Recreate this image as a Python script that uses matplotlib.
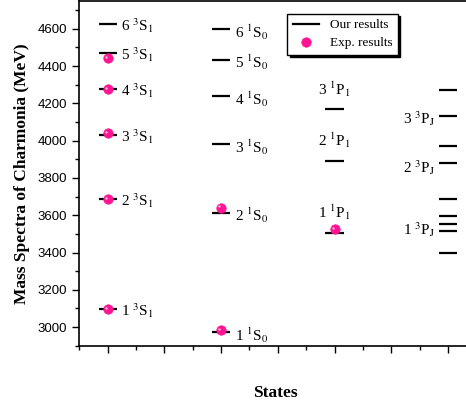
import matplotlib
matplotlib.use("Agg")
import matplotlib.pyplot as plt
from matplotlib.ticker import MultipleLocator

plt.rcParams['font.family'] = 'Liberation Serif'
plt.rcParams['mathtext.fontset'] = 'stix'

# column positions on the x axis
col_s3 = 1
col_s1 = 3
col_p1 = 5
col_pj = 7

# our results (MeV)
s3_levels = [3098, 3687, 4028, 4275, 4470, 4625]
s3_labels = ["1", "2", "3", "4", "5", "6"]
s1_levels = [2973, 3613, 3980, 4237, 4435, 4598]
p1_levels = [3506, 3893, 4171]
pj_levels = [3395, 3514, 3555, 3595, 3689, 3880, 3969, 4130, 4269]

# experimental values (MeV)
s3_exp = [3097, 3686, 4039, 4275, 4441]
s1_exp = [2984, 3640]
p1_exp = [3527]

# label heights for the P wave groups
p1_label_y = [3615, 4000, 4275]
pj_label_y = [3525, 3855, 4120]

fig = plt.figure(figsize=(4.66, 4.03), dpi=100)
ax = fig.add_axes([0.170, 0.142, 0.84, 0.856])

hw = 0.16
lc = 'black'
ax.hlines(s3_levels, col_s3 - hw, col_s3 + hw, color=lc, lw=1.6)
ax.hlines(s1_levels, col_s1 - hw, col_s1 + hw, color=lc, lw=1.6)
ax.hlines(p1_levels, col_p1 - hw, col_p1 + hw, color=lc, lw=1.6)
ax.hlines(pj_levels, col_pj - hw, col_pj + hw, color=lc, lw=1.6)

dot = dict(ls='none', marker='o', ms=6.8, mfc='#ff1493', mec='#ff1493', mew=0.5)
ax.plot([col_s3] * len(s3_exp), s3_exp, **dot)
ax.plot([col_s1] * len(s1_exp), s1_exp, **dot)
ax.plot([col_p1] * len(p1_exp), p1_exp, **dot)
# small highlight on the spheres
hl = dict(ls='none', marker='o', ms=1.7, mfc='#ffc0e0', mec='none')
ax.plot([col_s3 - 0.03] * len(s3_exp), [v + 7 for v in s3_exp], **hl)
ax.plot([col_s1 - 0.03] * len(s1_exp), [v + 7 for v in s1_exp], **hl)
ax.plot([col_p1 - 0.03] * len(p1_exp), [v + 7 for v in p1_exp], **hl)

fs = 11
for n, v in zip(s3_labels, s3_levels):
    ax.text(col_s3 + 0.24, v - 8, n + r" $^3$S$_1$", fontsize=fs, va='center', ha='left')
for n, v in zip(s3_labels, s1_levels):
    ax.text(col_s1 + 0.24, v - 15, n + r" $^1$S$_0$", fontsize=fs, va='center', ha='left')
for n, v in zip(["1", "2", "3"], p1_label_y):
    ax.text(col_p1, v, n + r" $^1$P$_1$", fontsize=fs, va='center', ha='center')
for n, v in zip(["1", "2", "3"], pj_label_y):
    ax.text(col_pj - 0.22, v, n + r" $^3$P$_\mathrm{J}$", fontsize=fs, va='center', ha='right')

ax.set_xlim(0.5, 7.4)
ax.set_ylim(2900, 4750)
ax.xaxis.set_major_locator(MultipleLocator(1))
ax.xaxis.set_minor_locator(MultipleLocator(0.5))
ax.yaxis.set_major_locator(MultipleLocator(200))
ax.yaxis.set_minor_locator(MultipleLocator(100))
ax.tick_params(axis='x', which='major', length=5, width=1, labelbottom=False)
ax.tick_params(axis='x', which='minor', length=3, width=1)
ax.tick_params(axis='y', which='major', length=5, width=1, labelsize=9.5)
ax.tick_params(axis='y', which='minor', length=3, width=1)
for lab in ax.get_yticklabels():
    lab.set_fontfamily('Liberation Sans')
for sp in ax.spines.values():
    sp.set_linewidth(1.2)

ax.set_ylabel("Mass Spectra of Charmonia (MeV)", fontsize=12.5, fontweight='bold', labelpad=6)
ax.set_xlabel("States", fontsize=12.5, fontweight='bold', labelpad=22)

leg_our, = ax.plot([], [], color='black', lw=1.6, label='Our results')
leg_exp, = ax.plot([], [], **dict(dot, label='Exp. results'))
leg = ax.legend(handles=[leg_our, leg_exp], loc='upper left', bbox_to_anchor=(0.515, 0.982),
                fontsize=9.5, frameon=True, fancybox=False, shadow={'color': 'black', 'alpha': 1},
                edgecolor='black', handlelength=2.0, borderpad=0.4, labelspacing=0.45,
                handletextpad=0.8)
leg.get_frame().set_linewidth(1.0)

fig.savefig("out.png", dpi=100)
